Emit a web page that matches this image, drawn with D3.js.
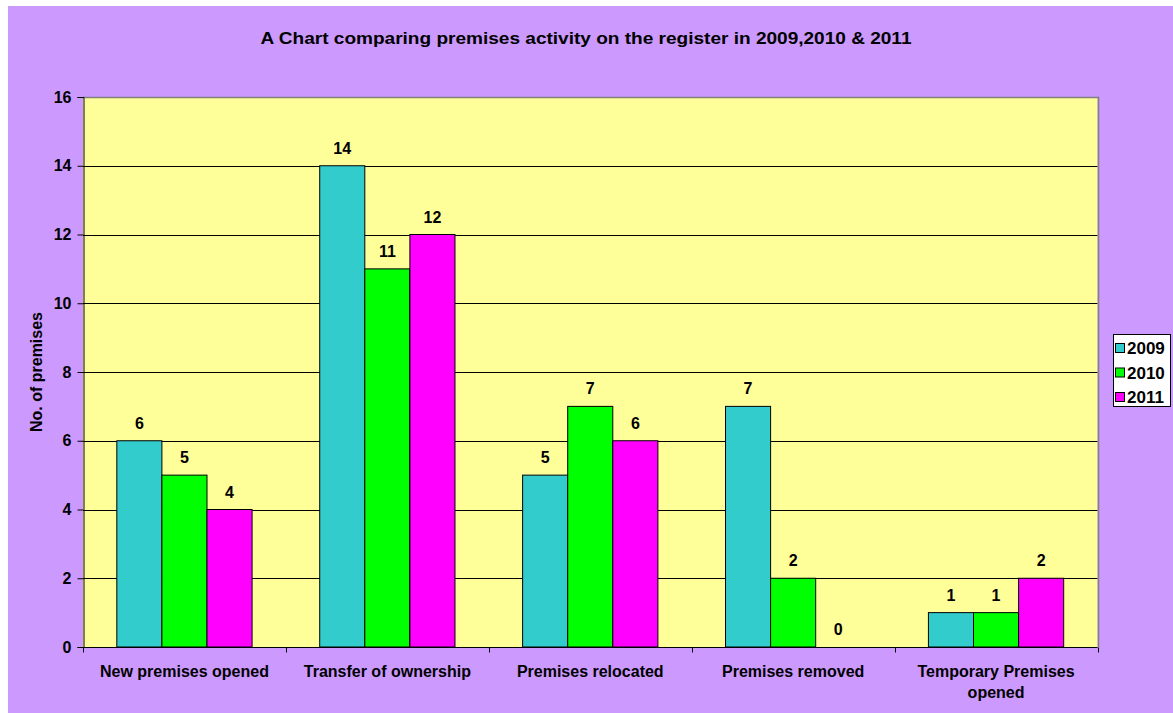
<!DOCTYPE html>
<html>
<head>
<meta charset="utf-8">
<script src="https://cdn.jsdelivr.net/npm/d3@7"></script>
<style>
  body { margin: 0; background: #fff; }
  text { font-family: "Liberation Sans", Arial, sans-serif; font-weight: bold; fill: #000; }
</style>
</head>
<body>
<svg id="chart_svg"></svg>
<script>
const width = 1173;
const height = 713;
const margin = {left: 83, right: 75, top: 97, bottom: 66};

const categories = [
    ["New premises opened"],
    ["Transfer of ownership"],
    ["Premises relocated"],
    ["Premises removed"],
    ["Temporary Premises", "opened"]
];
const years = ["2009", "2010", "2011"];
const values_2009 = [6, 14, 5, 7, 1];
const values_2010 = [5, 11, 7, 2, 1];
const values_2011 = [4, 12, 6, 0, 2];
const colors = ["#33CCCC", "#00FF00", "#FF00FF"];
const y_ticks = [0, 2, 4, 6, 8, 10, 12, 14, 16];

const series = [values_2009, values_2010, values_2011];

const svg = d3.select('#chart_svg')
    .attr('width', width)
    .attr('height', height);

// chart background
svg.append('rect')
    .attr('x', 8).attr('y', 6)
    .attr('width', width - 8).attr('height', height - 6)
    .attr('fill', '#CC99FF');

const x0 = d3.scaleBand()
    .domain(d3.range(categories.length))
    .range([margin.left, width - margin.right - 0.5]);

// gap width 150% -> bars take 3 / 4.5 of the category
const x1 = d3.scaleBand()
    .domain(d3.range(years.length))
    .range([0, x0.bandwidth() * 3 / 4.5]);
const groupOffset = x0.bandwidth() * 0.75 / 4.5;

const y = d3.scaleLinear()
    .domain([0, 16])
    .range([height - margin.bottom, margin.top]);

const plotW = x0.range()[1] - margin.left;
const plotH = y(0) - y(16);

// plot area
svg.append('rect')
    .attr('x', margin.left).attr('y', y(16))
    .attr('width', plotW).attr('height', plotH)
    .attr('fill', '#FFFF99');

// grid lines
svg.append('g')
    .selectAll('line')
    .data(y_ticks.filter(d => d > 0 && d < 16))
    .enter().append('line')
        .attr('x1', margin.left).attr('x2', margin.left + plotW)
        .attr('y1', d => Math.round(y(d)) + 0.5)
        .attr('y2', d => Math.round(y(d)) + 0.5)
        .attr('stroke', '#000');

// plot border (top/right grey)
svg.append('path')
    .attr('d', `M${margin.left},${Math.round(y(16)) + 0.5}H${Math.round(margin.left + plotW) + 0.5}V${y(0)}`)
    .attr('fill', 'none')
    .attr('stroke', '#808080')
    .attr('stroke-width', 1.5);

// bars
const groups = svg.append('g')
    .selectAll('g')
    .data(categories)
    .enter().append('g')
        .attr('transform', (d, i) => `translate(${x0(i) + groupOffset},0)`);

groups.selectAll('rect')
    .data((d, i) => series.map((s, j) => ({v: s[i], j: j})))
    .enter().append('rect')
        .attr('x', d => x1(d.j))
        .attr('y', d => y(d.v))
        .attr('width', x1.bandwidth())
        .attr('height', d => y(0) - y(d.v))
        .attr('fill', d => colors[d.j])
        .attr('stroke', '#000')
        .attr('stroke-width', 1)
        .style('display', d => d.v > 0 ? null : 'none');

groups.selectAll('text')
    .data((d, i) => series.map((s, j) => ({v: s[i], j: j})))
    .enter().append('text')
        .attr('x', d => x1(d.j) + x1.bandwidth() / 2)
        .attr('y', d => y(d.v) - 12)
        .attr('text-anchor', 'middle')
        .style('font-size', '16px')
        .text(d => d.v);

// y axis
const yAxis = svg.append('g')
    .attr('transform', `translate(${margin.left + 0.5},0)`)
    .call(d3.axisLeft(y).tickValues(y_ticks).tickSize(6).tickPadding(6));
yAxis.attr('font-family', null).attr('font-size', null);
yAxis.select('.domain').attr('stroke', '#000');
yAxis.selectAll('text').style('font-size', '16px');

// x axis
const xAxis = svg.append('g')
    .attr('transform', `translate(0,${y(0) + 0.5})`);
xAxis.append('line')
    .attr('x1', margin.left).attr('x2', margin.left + plotW)
    .attr('stroke', '#000');
xAxis.selectAll('.tick')
    .data(d3.range(categories.length + 1))
    .enter().append('line')
        .attr('x1', d => Math.round(margin.left + d * x0.bandwidth()) + 0.5)
        .attr('x2', d => Math.round(margin.left + d * x0.bandwidth()) + 0.5)
        .attr('y1', 0).attr('y2', 5)
        .attr('stroke', '#000');

xAxis.selectAll('.cat')
    .data(categories)
    .enter().append('text')
        .attr('class', 'cat')
        .attr('text-anchor', 'middle')
        .attr('transform', (d, i) => `translate(${x0(i) + x0.bandwidth() / 2},29)`)
        .style('font-size', '16px')
        .selectAll('tspan')
        .data(d => d)
        .enter().append('tspan')
            .attr('x', 0)
            .attr('dy', (d, i) => i === 0 ? 0 : 21)
            .text(d => d);

// y axis title
svg.append('text')
    .attr('transform', `translate(42,${(y(0) + y(16)) / 2}) rotate(-90)`)
    .attr('text-anchor', 'middle')
    .style('font-size', '16px')
    .text('No. of premises');

// title
svg.append('text')
    .attr('x', 586).attr('y', 43.5)
    .attr('text-anchor', 'middle')
    .attr('textLength', 651)
    .attr('lengthAdjust', 'spacingAndGlyphs')
    .style('font-size', '17px')
    .text('A Chart comparing premises activity on the register in 2009,2010 & 2011');

// legend
const legend = svg.append('g')
    .attr('transform', 'translate(1113,334)');
legend.append('rect')
    .attr('x', 0.5).attr('y', 0.5)
    .attr('width', 57).attr('height', 72)
    .attr('fill', '#fff')
    .attr('stroke', '#000');
const items = legend.selectAll('.item')
    .data(years)
    .enter().append('g')
        .attr('transform', (d, i) => `translate(2,${9 + i * 24.5})`);
items.append('rect')
    .attr('x', 0.5).attr('y', 0.5)
    .attr('width', 9).attr('height', 9)
    .attr('fill', (d, i) => colors[i])
    .attr('stroke', '#000');
items.append('text')
    .attr('x', 12).attr('y', 11)
    .style('font-size', '17px')
    .text(d => d);
</script>
</body>
</html>
